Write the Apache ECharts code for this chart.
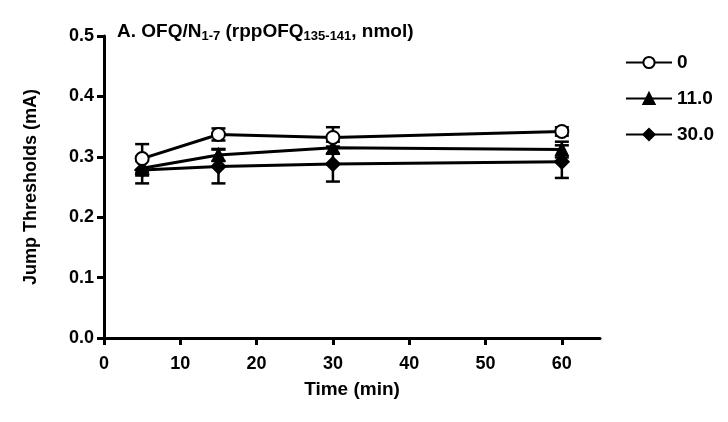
<!DOCTYPE html>
<html>
<head>
<meta charset="utf-8">
<script src="https://cdn.jsdelivr.net/npm/echarts@6/dist/echarts.min.js"></script>
<style>
  html, body { margin: 0; padding: 0; background: #fff; }
  #chart { width: 728px; height: 422px; }
</style>
</head>
<body>
<div id="chart"></div>
<script>
// time points (min)
const times = [5, 15, 30, 60]
const doses = ['0', '11.0', '30.0']
// mean jump thresholds (mA)
const dose0 = [0.297, 0.337, 0.332, 0.342]
const dose11 = [0.281, 0.303, 0.315, 0.312]
const dose30 = [0.278, 0.284, 0.288, 0.292]
// SEM
const err0 = [0.024, 0.010, 0.017, 0.007]
const err11 = [0.012, 0.010, 0.010, 0.013]
const err30 = [0.022, 0.028, 0.029, 0.027]
const xTicks = [0, 10, 20, 30, 40, 50, 60]
const yTicks = [0, 0.1, 0.2, 0.3, 0.4, 0.5]

const font = 'Liberation Sans'
const mychart = echarts.init(document.getElementById('chart'))

function pairs(ys) {
  return times.map((t, i) => [t, ys[i]])
}

// error bar as custom series
function errSeries(ys, es) {
  return {
    type: 'custom',
    silent: true,
    z: 1,
    data: times.map((t, i) => [t, ys[i] - es[i], ys[i] + es[i]]),
    renderItem: function (params, api) {
      const lo = api.coord([api.value(0), api.value(1)])
      const hi = api.coord([api.value(0), api.value(2)])
      const w = 7
      const st = { stroke: '#000', lineWidth: 2.5 }
      return {
        type: 'group',
        children: [
          { type: 'line', shape: { x1: hi[0], y1: hi[1], x2: lo[0], y2: lo[1] }, style: st },
          { type: 'line', shape: { x1: hi[0] - w, y1: hi[1], x2: hi[0] + w, y2: hi[1] }, style: st },
          { type: 'line', shape: { x1: lo[0] - w, y1: lo[1], x2: lo[0] + w, y2: lo[1] }, style: st },
        ],
      }
    },
  }
}

function lineSeries(name, ys, symbol, size) {
  return {
    name: name,
    type: 'line',
    data: pairs(ys),
    symbol: symbol,
    symbolSize: size,
    z: 3,
    lineStyle: { color: '#000', width: 3 },
    itemStyle: { color: '#000', borderColor: '#000', borderWidth: 2.5 },
  }
}

mychart.setOption({
  animation: false,
  backgroundColor: '#fff',
  title: {
    text: 'A. OFQ/N{s|1-7} (rppOFQ{s|135-141}, nmol)',
    left: 112,
    top: 15,
    textStyle: {
      fontFamily: font,
      fontWeight: 'bold',
      fontSize: 19,
      color: '#000',
      rich: {
        s: { fontFamily: font, fontWeight: 'bold', fontSize: 13, color: '#000', padding: [10, 0, 0, 0] },
      },
    },
  },
  legend: {
    orient: 'vertical',
    left: 620,
    top: 48,
    itemGap: 17,
    itemWidth: 46,
    itemHeight: 14,
    data: doses,
    textStyle: { fontFamily: font, fontWeight: 'bold', fontSize: 19, color: '#000' },
  },
  grid: { left: 104, right: 128, top: 36, bottom: 84 },
  xAxis: {
    type: 'value',
    min: 0,
    max: 65,
    interval: 10,
    name: 'Time (min)',
    nameLocation: 'middle',
    nameGap: 42,
    nameTextStyle: { fontFamily: font, fontWeight: 'bold', fontSize: 19, color: '#000' },
    axisLine: { show: true, lineStyle: { color: '#000', width: 3 } },
    axisTick: { show: true, length: 7, lineStyle: { color: '#000', width: 3 } },
    axisLabel: {
      fontFamily: font, fontWeight: 'bold', fontSize: 18, color: '#000', margin: 17,
      showMaxLabel: false,
      formatter: v => (xTicks.includes(v) ? String(v) : ''),
    },
    splitLine: { show: false },
  },
  yAxis: {
    type: 'value',
    min: 0,
    max: 0.5,
    interval: 0.1,
    name: 'Jump Thresholds (mA)',
    nameLocation: 'middle',
    nameGap: 64,
    nameTextStyle: { fontFamily: font, fontWeight: 'bold', fontSize: 18, color: '#000' },
    axisLine: { show: true, lineStyle: { color: '#000', width: 3 } },
    axisTick: { show: true, length: 7, lineStyle: { color: '#000', width: 3 } },
    axisLabel: {
      fontFamily: font, fontWeight: 'bold', fontSize: 18, color: '#000', margin: 10,
      formatter: v => yTicks.find(t => Math.abs(t - v) < 1e-9).toFixed(1),
    },
    splitLine: { show: false },
  },
  series: [
    errSeries(dose30, err30),
    errSeries(dose11, err11),
    errSeries(dose0, err0),
    lineSeries('30.0', dose30, 'diamond', 13),
    lineSeries('11.0', dose11, 'triangle', 11),
    lineSeries('0', dose0, 'emptyCircle', 13),
  ],
})
</script>
</body>
</html>
